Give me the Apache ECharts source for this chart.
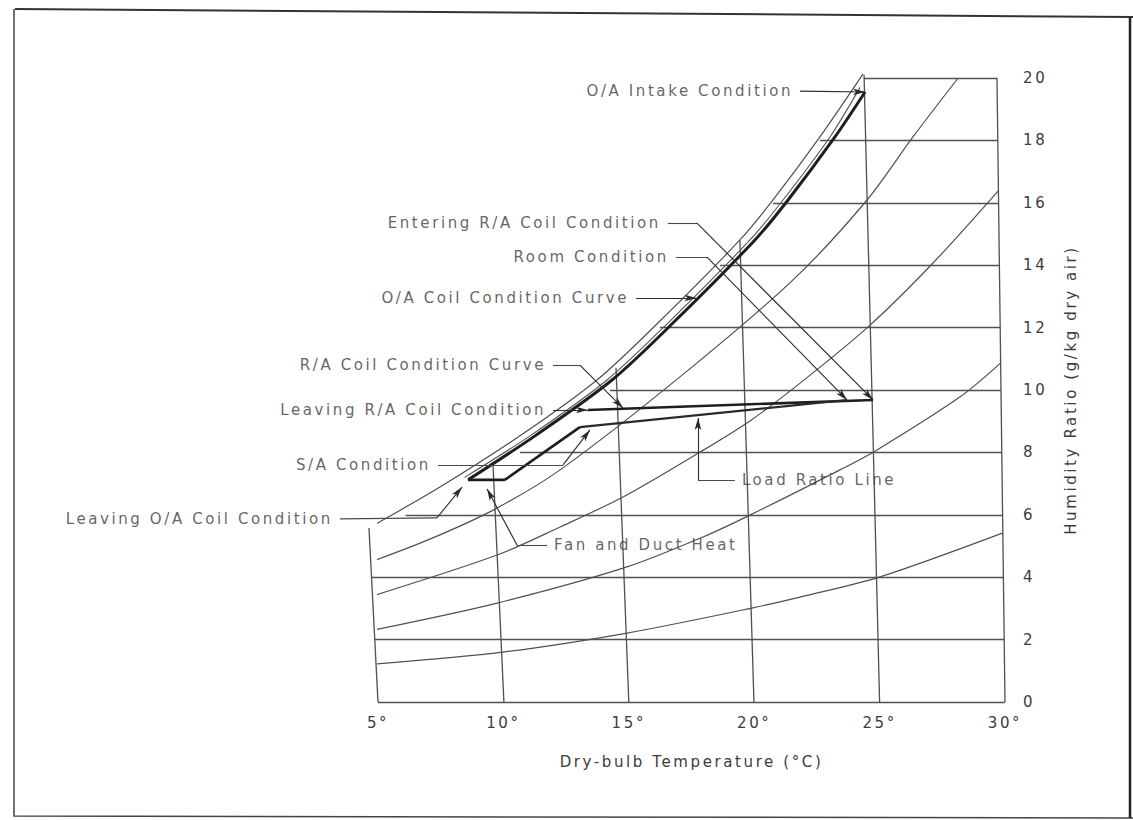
<!DOCTYPE html>
<html><head><meta charset="utf-8">
<script src="https://cdn.jsdelivr.net/npm/echarts@6/dist/echarts.min.js"></script>
<style>
html,body{margin:0;padding:0;background:#fff;}
#c{width:1133px;height:820px;}
#c text{letter-spacing:2.6px;}
</style></head><body><div id="c"></div>
<script>
// ---------- axes ----------
const xTicks = [5, 10, 15, 20, 25, 30];
const xTickLabels = ['5°', '10°', '15°', '20°', '25°', '30°'];
const yTicks = [0, 2, 4, 6, 8, 10, 12, 14, 16, 18, 20];
const yTickLabels = ['0', '2', '4', '6', '8', '10', '12', '14', '16', '18', '20'];

// dry-bulb lines: [°C at W=0, °C at top end, W at top end]
const dryBulbLines = [[5.0, 4.64, 5.58], [10.02, 9.58, 7.69], [15.0, 14.49, 10.71],
  [19.99, 19.43, 14.81], [25.0, 24.38, 20.10], [30.0, 29.68, 20.0]];
// humidity-ratio lines: [W, start °C, end °C]
const humidityLines = [[0, 5.0, 30.0], [2, 4.87, 29.97], [4, 4.74, 29.94], [6, 6.1, 29.90],
  [8, 10.66, 29.87], [10, 14.25, 29.84], [12, 16.24, 29.81], [14, 18.64, 29.78],
  [16, 20.75, 29.74], [18, 22.62, 29.71], [20, 24.38, 29.68]];

// ---------- curves ----------
const saturation = [[4.64, 5.58], [7.47, 6.89], [10.66, 8.53], [13.73, 10.32], [16.24, 12.21],
  [19.43, 14.81], [20.75, 16.09], [22.62, 18.11], [24.34, 20.13]];
const rh80 = [[4.71, 4.49], [7.07, 5.22], [9.59, 6.15], [12.26, 7.44], [17.04, 10.42],
  [21.55, 13.53], [24.50, 16.09], [26.33, 18.11], [28.13, 20.0]];
const rh60 = [[4.78, 3.40], [9.75, 4.71], [12.26, 5.61], [14.77, 6.57], [17.84, 8.01],
  [19.83, 9.01], [21.83, 10.22], [24.62, 12.08], [27.13, 14.07], [29.75, 16.40]];
const rh40 = [[4.85, 2.31], [9.75, 3.17], [14.93, 4.33], [17.96, 5.29], [19.83, 5.99],
  [23.42, 7.44], [24.90, 8.08], [28.21, 9.78], [29.83, 10.87]];
const rh20 = [[4.92, 1.22], [9.98, 1.60], [14.93, 2.21], [19.91, 3.01], [22.03, 3.40],
  [25.02, 4.01], [29.92, 5.42]];

// O/A coil condition curve (thick) and its thin companion line
const oaCoilCurve = [[24.42, 19.55], [23.22, 18.11], [21.35, 16.09], [20.03, 14.81],
  [16.84, 12.21], [14.33, 10.32], [11.26, 8.53], [8.59, 7.12]];
const oaCoilCompanion = [[24.22, 19.70], [23.02, 18.11], [21.15, 16.09], [19.83, 14.81],
  [16.64, 12.21], [14.13, 10.32], [11.06, 8.53], [8.45, 7.20]];

// ---------- state points ----------
const oaIntake = [24.42, 19.55];
const leavingOA = [8.59, 7.12];
const fanHeatEnd = [10.06, 7.12];
const supplyAir = [13.05, 8.81];
const leavingRA = [13.37, 9.36];
const room = [23.70, 9.68];
const enteringRA = [24.74, 9.68];

// ---------- annotations ----------
const annotationTexts = ['O/A Intake Condition', 'Entering R/A Coil Condition', 'Room Condition',
  'O/A Coil Condition Curve', 'R/A Coil Condition Curve', 'Leaving R/A Coil Condition',
  'S/A Condition', 'Leaving O/A Coil Condition', 'Fan and Duct Heat', 'Load Ratio Line'];
const annotationSides = ['left', 'left', 'left', 'left', 'left', 'left', 'left', 'left', 'right', 'right'];
const annotationLeaders = [
  [[21.83, 19.58], oaIntake],
  [[16.56, 15.35], [17.72, 15.35], enteringRA],
  [[16.88, 14.26], [18.12, 14.26], room],
  [[15.29, 12.95], [17.70, 12.95]],
  [[11.98, 10.80], [13.05, 10.80], [14.77, 9.42]],
  [[11.98, 9.36], leavingRA],
  [[7.39, 7.60], [12.38, 7.60], [13.45, 8.72]],
  [[3.48, 5.87], [7.35, 5.90], [8.35, 6.89]],
  [[11.74, 5.03], [10.54, 5.03], [9.35, 6.83]],
  [[19.23, 7.12], [17.76, 7.12], [17.76, 9.10]]
];

// ---------- build ----------
const FONT = 'DejaVu Sans';
const TXT = '#3c3c3c';
const GRIDC = '#505050';

const gridLinesData = dryBulbLines.map(([t0, tx, tw]) => ({ coords: [[t0, 0], [tx, tw]] }))
  .concat(humidityLines.map(([w, a, b]) => ({ coords: [[a, w], [b, w]] })));

const plainLeaders = [], arrowLeaders = [];
annotationLeaders.forEach(path => {
  for (let i = 0; i < path.length - 1; i++) {
    const seg = { coords: [path[i], path[i + 1]] };
    if (i === path.length - 2) arrowLeaders.push(seg); else plainLeaders.push(seg);
  }
});

function curve(data, width, color, z) {
  return { type: 'line', data, showSymbol: false, symbol: 'none', smooth: 0.3,
    clip: false, silent: true, z, lineStyle: { width, color } };
}
function seg(data, width, color, z) {
  return { type: 'line', data, showSymbol: false, symbol: 'none', smooth: false, clip: false,
    silent: true, z, lineStyle: { width, color } };
}

const textStyle = { fontFamily: FONT, fontSize: 15, color: TXT };

const option = {
  animation: false,
  backgroundColor: '#ffffff',
  grid: { left: 378, right: 128, top: 78, bottom: 118 },
  xAxis: {
    type: 'value', min: 5, max: 30, interval: 5,
    axisLine: { show: false }, axisTick: { show: false }, splitLine: { show: false },
    axisLabel: Object.assign({ margin: 13, formatter: v => { const i = xTicks.indexOf(v); return i < 0 ? '' : xTickLabels[i]; } }, textStyle),
    name: 'Dry-bulb Temperature (°C)', nameLocation: 'middle', nameGap: 52,
    nameTextStyle: textStyle
  },
  yAxis: {
    type: 'value', position: 'right', min: 0, max: 20, interval: 2,
    axisLine: { show: false }, axisTick: { show: false }, splitLine: { show: false },
    axisLabel: Object.assign({ margin: 18, formatter: v => { const i = yTicks.indexOf(v); return i < 0 ? '' : yTickLabels[i]; } }, textStyle),
    name: 'Humidity Ratio (g/kg dry air)', nameLocation: 'middle', nameRotate: 90, nameGap: 58,
    nameTextStyle: textStyle
  },
  graphic: [
    { type: 'polyline', silent: true, shape: { points: [[15, 9], [1133, 17]] }, style: { stroke: '#333', lineWidth: 2, fill: null } },
    { type: 'polyline', silent: true, shape: { points: [[14, 9], [14, 816], [1133, 818]] }, style: { stroke: '#444', lineWidth: 1.5, fill: null } },
    { type: 'polyline', silent: true, shape: { points: [[1130, 17], [1130, 818]] }, style: { stroke: '#222', lineWidth: 2.5, fill: null } }
  ],
  series: [
    { type: 'lines', coordinateSystem: 'cartesian2d', silent: true, clip: false, z: 1,
      lineStyle: { color: GRIDC, width: 1.3, opacity: 1 }, data: gridLinesData },
    curve(rh80, 1.2, GRIDC, 2), curve(rh60, 1.2, GRIDC, 2), curve(rh40, 1.2, GRIDC, 2), curve(rh20, 1.2, GRIDC, 2),
    curve(saturation, 1.2, GRIDC, 2),
    curve(oaCoilCompanion, 1.1, '#555', 3),
    curve(oaCoilCurve, 3, '#1e1e1e', 4),
    seg([leavingOA, fanHeatEnd], 2.6, '#1e1e1e', 4),
    seg([fanHeatEnd, supplyAir], 2.6, '#1e1e1e', 4),
    seg([leavingRA, enteringRA], 2.6, '#1e1e1e', 4),
    seg([supplyAir, room], 2.2, '#2a2a2a', 4),
    { type: 'lines', coordinateSystem: 'cartesian2d', silent: true, clip: false, z: 5,
      lineStyle: { color: '#4a4a4a', width: 1.1, opacity: 1 }, data: plainLeaders },
    { type: 'lines', coordinateSystem: 'cartesian2d', silent: true, clip: false, z: 5,
      symbol: ['none', 'arrow'], symbolSize: [0, [5, 12]],
      lineStyle: { color: '#2a2a2a', width: 1.1, opacity: 1 }, data: arrowLeaders },
    { type: 'scatter', silent: true, clip: false, z: 6, symbolSize: 0,
      data: annotationTexts.map((t, i) => ({
        name: t, value: annotationLeaders[i][0],
        label: Object.assign({ show: true, position: annotationSides[i], distance: 7, formatter: '{b}' }, textStyle)
      })) }
  ]
};

const chart = echarts.init(document.getElementById('c'), null, { renderer: 'svg', width: 1133, height: 820 });
chart.setOption(option);
</script></body></html>
